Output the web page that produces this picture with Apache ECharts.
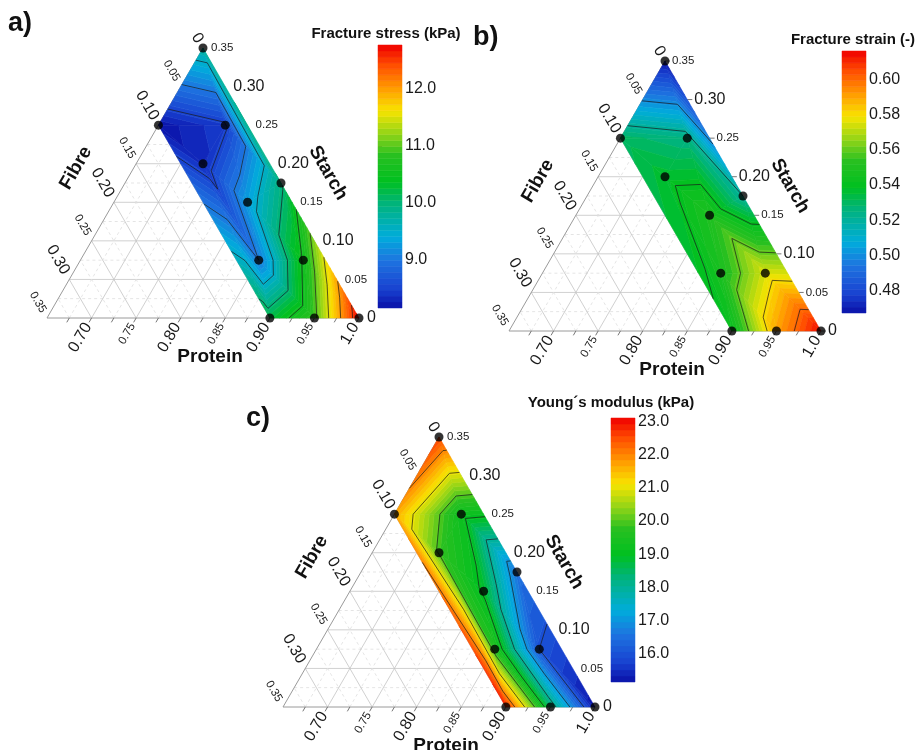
<!DOCTYPE html>
<html>
<head>
<meta charset="utf-8">
<script src="https://cdn.jsdelivr.net/npm/echarts@6/dist/echarts.min.js"></script>
<style>
  html, body { margin: 0; padding: 0; background: #fff; }
  #chart { width: 921px; height: 750px; }
</style>
</head>
<body>
<div id="chart"></div>
<script>
// design points (mass fractions), protein = 1 - fibre - starch
const fibre  = [0, 0.10, 0.025, 0.075, 0, 0.05, 0.075, 0.025, 0.10, 0.05, 0];
const starch = [0.35, 0.25, 0.25, 0.20, 0.175, 0.15, 0.075, 0.075, 0, 0, 0];

// measured responses at the design points
const fractureStress = [9.75, 8.17, 8.45, 8.32, 9.95, 9.3, 9.0, 10.55, 10.2, 10.9, 12.77];
const fractureStrain = [0.468, 0.53, 0.525, 0.537, 0.52, 0.55, 0.548, 0.575, 0.542, 0.59, 0.615];
const youngsModulus  = [22.6, 21.7, 19.2, 19.9, 16.5, 18.9, 19.6, 16.0, 22.9, 18.4, 15.2];

// triangulation of the design points (indices into the arrays above)
const triangles = [[0,1,2],[0,2,4],[1,3,2],[2,3,5],[2,5,4],[1,8,3],[3,8,6],[3,6,5],
                   [5,6,7],[5,7,4],[4,7,10],[6,8,9],[6,9,7],[7,9,10]];

// colour scale ranges, contour levels and colour bar ticks
const stressRange = [8.15, 12.77];
const strainRange = [0.4675, 0.616];
const modulusRange = [15.13, 23.12];
const stressLevels = [8.5, 9.0, 9.5, 10.0, 10.5, 11.0, 11.5, 12.0, 12.5];
const strainLevels = [0.50, 0.52, 0.54, 0.56, 0.58, 0.60];
const modulusLevels = [16, 17, 18, 19, 20, 21, 22];
const stressBarLabels = [9, 10, 11, 12];
const stressBarTicks = [8.5, 9, 9.5, 10, 10.5, 11, 11.5, 12, 12.5];
const strainBarLabels = [0.48, 0.50, 0.52, 0.54, 0.56, 0.58, 0.60];
const modulusBarLabels = [16, 17, 18, 19, 20, 21, 22, 23];

// ternary axis tick labels
const proteinLabels = ['0.70', '0.75', '0.80', '0.85', '0.90', '0.95', '1.0'];
const fibreLabels   = ['0', '0.05', '0.10', '0.15', '0.20', '0.25', '0.30', '0.35'];
const starchLabels  = ['0', '0.05', '0.10', '0.15', '0.20', '0.25', '0.30', '0.35'];
const gridSteps = [0.025, 0.05, 0.075, 0.1, 0.125, 0.15, 0.175, 0.2, 0.225, 0.25, 0.275, 0.3, 0.325];

const palStops  = [0, 0.07, 0.18, 0.27, 0.40, 0.48, 0.58, 0.66, 0.75, 0.83, 0.92, 1];
const palColors = ['#0a10a8', '#1840d0', '#1e74e0', '#00acdc', '#00b478', '#00c020',
                   '#28c020', '#90d418', '#f8e400', '#ffa000', '#ff5000', '#f00000'];

const FONT = '"Liberation Sans", Arial, Helvetica, sans-serif';
const SQ = Math.sqrt(3) / 2;
const SIDE = 0.35;
const BANDS = 44;

function tern(f, s) { return [1 - f - s / 2, s * SQ]; }
const pointXY = fibre.map((f, k) => tern(f, starch[k]));

function paletteColor(t) {
  t = Math.max(0, Math.min(1, t));
  for (let i = 1; i < palStops.length; i++) {
    if (t <= palStops[i]) {
      const u = (t - palStops[i - 1]) / (palStops[i] - palStops[i - 1]);
      return echarts.color.lerp(u, [palColors[i - 1], palColors[i]]);
    }
  }
  return palColors[palColors.length - 1];
}

// keep the part of polygon where value >= lev (above) or <= lev
function clipPoly(poly, lev, above) {
  const out = [];
  for (let i = 0; i < poly.length; i++) {
    const a = poly[i], b = poly[(i + 1) % poly.length];
    const ina = above ? a[2] >= lev : a[2] <= lev;
    const inb = above ? b[2] >= lev : b[2] <= lev;
    if (ina) out.push(a);
    if (ina !== inb) {
      const u = (lev - a[2]) / (b[2] - a[2]);
      out.push([a[0] + u * (b[0] - a[0]), a[1] + u * (b[1] - a[1]), lev]);
    }
  }
  return out;
}

const panels = [
  { values: fractureStress, range: stressRange, levels: stressLevels,
    barLabels: stressBarLabels, barTicks: stressBarTicks, digits: 1, starchTicks: false },
  { values: fractureStrain, range: strainRange, levels: strainLevels,
    barLabels: strainBarLabels, barTicks: strainBarLabels, digits: 2, starchTicks: true },
  { values: youngsModulus, range: modulusRange, levels: modulusLevels,
    barLabels: modulusBarLabels, barTicks: modulusBarLabels, digits: 1, starchTicks: false }
];
const triGrids = [{ left: 47, top: 48 }, { left: 509, top: 61 }, { left: 283, top: 437 }];
const barGrids = [{ left: 378, top: 45, height: 263 }, { left: 842, top: 51, height: 262 },
                  { left: 611, top: 418, height: 264 }];

// frame: grid lines of the ternary diagram
const frameLines = [];
gridSteps.forEach((v, k) => {
  const major = k % 2 === 1;
  frameLines.push({ a: tern(SIDE - v, v), b: tern(0, v), major });   // starch = v
  frameLines.push({ a: tern(v, 0), b: tern(v, SIDE - v), major });   // fibre = v
  frameLines.push({ a: tern(v, 0), b: tern(0, v), major });          // protein = 1 - v
});
frameLines.push({ a: tern(SIDE, 0), b: tern(0, 0), edge: true });
frameLines.push({ a: tern(SIDE, 0), b: tern(0, SIDE), edge: true });

function isBig(v) { return Math.round(v * 100) % 10 === 0; }
function buildTexts(withStarchTicks) {
  const out = [];
  proteinLabels.forEach(l => {
    const p = +l;
    out.push({ pt: tern(1 - p, 0), dir: [-0.5, SQ], off: 7, text: l, size: isBig(p) ? 16 : 11.5,
               rot: Math.PI / 3, align: 'right' });
  });
  fibreLabels.forEach(l => {
    const f = +l;
    out.push({ pt: tern(f, SIDE - f), dir: [-0.5, -SQ], off: 7, text: l, size: isBig(f) ? 16 : 11.5,
               rot: -Math.PI / 3, align: 'right' });
  });
  starchLabels.forEach(l => {
    const s = +l;
    out.push({ pt: tern(0, s), dir: [1, 0], off: withStarchTicks ? 7 : 8, text: l, size: isBig(s) ? 16 : 11.5,
               rot: 0, align: 'left' });
  });
  out.push({ pt: [0.6825, 0.1684], dir: [0, 0], off: 0, text: 'Fibre', size: 19, bold: true,
             rot: Math.PI / 3, align: 'center' });
  out.push({ pt: [0.9652, 0.1628], dir: [0, 0], off: 0, text: 'Starch', size: 19, bold: true,
             rot: -Math.PI / 3, align: 'center' });
  out.push({ pt: [0.8329, -0.0438], dir: [0, 0], off: 0, text: 'Protein', size: 19, bold: true,
             rot: 0, align: 'center' });
  return out;
}

const grid = [], xAxis = [], yAxis = [], series = [];

panels.forEach((P, i) => {
  grid.push({ left: triGrids[i].left, top: triGrids[i].top, width: 312, height: 270 });
  xAxis.push({ gridIndex: i, type: 'value', min: 1 - SIDE, max: 1, show: false });
  yAxis.push({ gridIndex: i, type: 'value', min: 0, max: SIDE * SQ, show: false });
});
panels.forEach((P, i) => {
  const g = barGrids[i];
  grid.push({ left: g.left, top: g.top, width: 24, height: g.height });
  xAxis.push({ gridIndex: 3 + i, type: 'value', min: 0, max: 1, show: false });
  yAxis.push({
    gridIndex: 3 + i, type: 'value', min: P.range[0], max: P.range[1], position: 'right',
    axisLine: { show: false }, splitLine: { show: false },
    axisTick: { show: true, length: 4, customValues: P.barTicks, lineStyle: { color: '#333', width: 1 } },
    axisLabel: { customValues: P.barLabels, formatter: v => (+v).toFixed(P.digits),
                 fontSize: 16, color: '#1a1a1a', fontFamily: FONT, margin: 3 }
  });
});

panels.forEach((P, i) => {
  const [vmin, vmax] = P.range;
  const step = (vmax - vmin) / BANDS;

  // grid lines and edges
  series.push({
    type: 'custom', xAxisIndex: i, yAxisIndex: i, z: 1, silent: true,
    data: frameLines.map((_, k) => [k]),
    renderItem: (params, api) => {
      const L = frameLines[params.dataIndex];
      const a = api.coord(L.a), b = api.coord(L.b);
      const style = L.edge ? { stroke: '#9a9a9a', lineWidth: 1 }
        : L.major ? { stroke: '#c4c4c4', lineWidth: 0.8 }
        : { stroke: '#dedede', lineWidth: 0.8, lineDash: [3, 3] };
      return { type: 'line', shape: { x1: a[0], y1: a[1], x2: b[0], y2: b[1] }, style };
    }
  });

  // tick marks
  const ticks = [];
  gridSteps.concat([0]).forEach(v => ticks.push({ pt: tern(v, 0), dir: [-0.5, SQ], len: 5 }));
  if (P.starchTicks) starchLabels.forEach(l => ticks.push({ pt: tern(0, +l), dir: [1, 0], len: 5 }));
  series.push({
    type: 'custom', xAxisIndex: i, yAxisIndex: i, z: 1, silent: true,
    data: ticks.map((_, k) => [k]),
    renderItem: (params, api) => {
      const T = ticks[params.dataIndex];
      const a = api.coord(T.pt);
      return { type: 'line', shape: { x1: a[0], y1: a[1], x2: a[0] + T.dir[0] * T.len, y2: a[1] + T.dir[1] * T.len },
               style: { stroke: '#777', lineWidth: 1 } };
    }
  });

  // filled contour bands
  const fieldData = [];
  triangles.forEach((tri, t) => {
    const vs = tri.map(k => P.values[k]);
    const tmin = Math.min(...vs), tmax = Math.max(...vs);
    for (let b = 0; b < BANDS; b++) {
      const lo = b === 0 ? -1e9 : vmin + b * step;
      const hi = b === BANDS - 1 ? 1e9 : vmin + (b + 1) * step;
      if (hi < tmin || lo > tmax) continue;
      fieldData.push([t, lo, hi, vmin + (b + 0.5) * step]);
    }
  });
  series.push({
    type: 'custom', xAxisIndex: i, yAxisIndex: i, z: 2, silent: true, data: fieldData,
    renderItem: (params, api) => {
      const tri = triangles[api.value(0)];
      let poly = tri.map(k => [pointXY[k][0], pointXY[k][1], P.values[k]]);
      poly = clipPoly(clipPoly(poly, api.value(1), true), api.value(2), false);
      if (poly.length < 3) return null;
      const col = paletteColor((api.value(3) - vmin) / (vmax - vmin));
      return { type: 'polygon', shape: { points: poly.map(p => api.coord([p[0], p[1]])) },
               style: { fill: col, stroke: col, lineWidth: 0.6 } };
    }
  });

  // contour lines
  const lineData = [];
  triangles.forEach((tri, t) => {
    const vs = tri.map(k => P.values[k]);
    P.levels.forEach(L => { if (L > Math.min(...vs) && L < Math.max(...vs)) lineData.push([t, L]); });
  });
  series.push({
    type: 'custom', xAxisIndex: i, yAxisIndex: i, z: 3, silent: true, data: lineData,
    renderItem: (params, api) => {
      const tri = triangles[api.value(0)];
      const L = api.value(1);
      const pts = [];
      for (let e = 0; e < 3; e++) {
        const a = tri[e], b = tri[(e + 1) % 3];
        const va = P.values[a] - L, vb = P.values[b] - L;
        if ((va < 0) !== (vb < 0)) {
          const u = va / (va - vb);
          pts.push(api.coord([pointXY[a][0] + u * (pointXY[b][0] - pointXY[a][0]),
                              pointXY[a][1] + u * (pointXY[b][1] - pointXY[a][1])]));
        }
      }
      if (pts.length < 2) return null;
      return { type: 'line', shape: { x1: pts[0][0], y1: pts[0][1], x2: pts[1][0], y2: pts[1][1] },
               style: { stroke: '#1a1a1a', lineWidth: 0.7 } };
    }
  });

  // tick labels and axis titles
  const texts = buildTexts(P.starchTicks);
  series.push({
    type: 'custom', xAxisIndex: i, yAxisIndex: i, z: 4, silent: true,
    data: texts.map((_, k) => [k]),
    renderItem: (params, api) => {
      const L = texts[params.dataIndex];
      const c = api.coord(L.pt);
      return {
        type: 'text', x: c[0] + L.dir[0] * L.off, y: c[1] + L.dir[1] * L.off, rotation: L.rot,
        style: { text: L.text, fill: L.bold ? '#111' : '#1a1a1a', fontSize: L.size, fontFamily: FONT,
                 fontWeight: L.bold ? 'bold' : 'normal', align: L.align, verticalAlign: 'middle' }
      };
    }
  });

  // design points
  series.push({
    type: 'scatter', xAxisIndex: i, yAxisIndex: i, z: 5, silent: true,
    symbol: 'circle', symbolSize: 9, itemStyle: { color: '#000' },
    data: pointXY
  });

  // colour bar
  const barData = [];
  for (let b = 0; b < BANDS; b++) barData.push([vmin + b * step, vmin + (b + 1) * step]);
  series.push({
    type: 'custom', xAxisIndex: 3 + i, yAxisIndex: 3 + i, z: 2, silent: true, data: barData,
    renderItem: (params, api) => {
      const lo = api.value(0), hi = api.value(1);
      const p0 = api.coord([0, lo]), p1 = api.coord([1, hi]);
      const col = paletteColor(((lo + hi) / 2 - vmin) / (vmax - vmin));
      return { type: 'rect', shape: { x: p0[0], y: p1[1], width: p1[0] - p0[0], height: p0[1] - p1[1] },
               style: { fill: col, stroke: col, lineWidth: 0.5 } };
    }
  });
});

function label(x, y, text, size, align) {
  return { type: 'text', x, y, silent: true,
           style: { text, fontSize: size, fontWeight: 'bold', fontFamily: FONT, fill: '#111',
                    align, textAlign: align, verticalAlign: 'middle', textVerticalAlign: 'middle' } };
}

const chart = echarts.init(document.getElementById('chart'));
chart.setOption({
  animation: false,
  backgroundColor: '#fff',
  grid, xAxis, yAxis, series,
  graphic: [
    label(8, 24, 'a)', 27, 'left'),
    label(473, 38, 'b)', 27, 'left'),
    label(246, 419, 'c)', 27, 'left'),
    label(386, 34, 'Fracture stress (kPa)', 15, 'center'),
    label(853, 40, 'Fracture strain (-)', 15, 'center'),
    label(611, 403, 'Young\u00b4s modulus (kPa)', 15, 'center')
  ]
});
</script>
</body>
</html>
